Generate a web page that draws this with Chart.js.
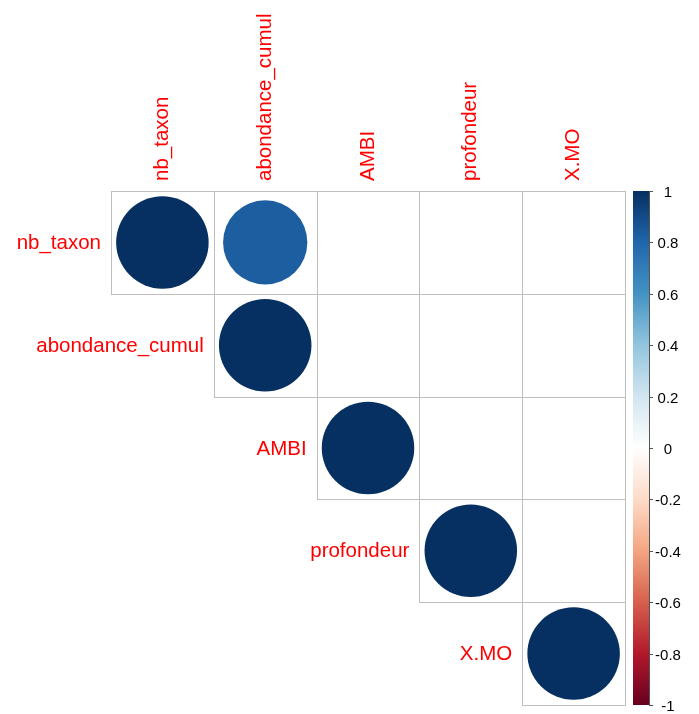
<!DOCTYPE html>
<html>
<head>
<meta charset="utf-8">
<script src="https://cdn.jsdelivr.net/npm/chart.js@4.4.1/dist/chart.umd.min.js"></script>
<style>
  html, body { margin: 0; padding: 0; background: #ffffff; }
  #wrap { width: 699px; height: 714px; }
</style>
</head>
<body>
<div id="wrap"><canvas id="corr" width="699" height="714"></canvas></div>
<script>
// variables (rows / columns of the matrix)
const variables = ['nb_taxon', 'abondance_cumul', 'AMBI', 'profondeur', 'X.MO'];

// upper triangle of the correlation matrix, null = blank cell
const rowNbTaxon     = [1, 0.83, null, null, null];
const rowAbondance   = [null, 1, null, null, null];
const rowAmbi        = [null, null, 1, null, null];
const rowProfondeur  = [null, null, null, 1, null];
const rowXMO         = [null, null, null, null, 1];
const corrRows = [rowNbTaxon, rowAbondance, rowAmbi, rowProfondeur, rowXMO];

// colour legend ticks
const legendTicks = [1, 0.8, 0.6, 0.4, 0.2, 0, -0.2, -0.4, -0.6, -0.8, -1];

// RdBu palette, from -1 to 1
const rdBu = ['#67001F', '#B2182B', '#D6604D', '#F4A582', '#FDDBC7', '#FFFFFF',
              '#D1E5F0', '#92C5DE', '#4393C3', '#2166AC', '#053061'];

const pad = { left: 111, top: 191, right: 74, bottom: 9 };
const labelFont = '20.5px "Liberation Sans", Arial, sans-serif';
const tickFont = '15px "Liberation Sans", Arial, sans-serif';

function hexToRgb(h) {
  return [1, 3, 5].map(i => parseInt(h.slice(i, i + 2), 16));
}

function corrColor(v) {
  const t = (v + 1) / 2 * (rdBu.length - 1);
  const i = Math.min(Math.floor(t), rdBu.length - 2);
  const f = t - i;
  const a = hexToRgb(rdBu[i]), b = hexToRgb(rdBu[i + 1]);
  const c = a.map((x, k) => Math.round(x + (b[k] - x) * f));
  return `rgb(${c[0]},${c[1]},${c[2]})`;
}

// bubble points, one per non-empty cell
const points = [];
corrRows.forEach((row, i) => {
  row.forEach((v, j) => {
    if (v !== null) points.push({ x: j, y: i, v });
  });
});

// bubble radius gets resolved while parsing (before scales are laid out),
// so take the cell size from the canvas width and padding
function cellSize(chart) {
  return (chart.width - pad.left - pad.right) / variables.length;
}

// grid, row/column labels and colour legend
const corrDecor = {
  id: 'corrDecor',
  beforeDatasetsDraw(chart) {
    const { ctx, scales: { x, y } } = chart;
    ctx.save();
    ctx.strokeStyle = '#BEBEBE';
    ctx.lineWidth = 1;
    for (let i = 0; i < variables.length; i++) {
      for (let j = i; j < variables.length; j++) {
        const x0 = Math.round(x.getPixelForValue(j - 0.5)) + 0.5;
        const x1 = Math.round(x.getPixelForValue(j + 0.5)) + 0.5;
        const y0 = Math.round(y.getPixelForValue(i - 0.5)) + 0.5;
        const y1 = Math.round(y.getPixelForValue(i + 0.5)) + 0.5;
        ctx.strokeRect(x0, y0, x1 - x0, y1 - y0);
      }
    }
    ctx.restore();
  },
  afterDraw(chart) {
    const { ctx, chartArea, scales: { x, y } } = chart;
    ctx.save();
    ctx.fillStyle = '#FF0000';
    ctx.font = labelFont;

    // column labels, rotated, above the grid
    variables.forEach((name, j) => {
      ctx.save();
      ctx.translate(x.getPixelForValue(j), chartArea.top - 10);
      ctx.rotate(-Math.PI / 2);
      ctx.textAlign = 'left';
      ctx.textBaseline = 'middle';
      ctx.fillText(name, 0, 0);
      ctx.restore();
    });

    // row labels, next to the diagonal
    ctx.textAlign = 'right';
    ctx.textBaseline = 'middle';
    variables.forEach((name, i) => {
      ctx.fillText(name, x.getPixelForValue(i - 0.5) - 10, y.getPixelForValue(i) + 1);
    });

    // colour legend
    const bx0 = 633, bx1 = 649;
    const by0 = chartArea.top, by1 = chartArea.bottom;
    const grad = ctx.createLinearGradient(0, by1, 0, by0);
    rdBu.forEach((c, k) => grad.addColorStop(k / (rdBu.length - 1), c));
    ctx.fillStyle = grad;
    ctx.fillRect(bx0, by0, bx1 - bx0, by1 - by0);

    ctx.strokeStyle = '#555555';
    ctx.lineWidth = 1;
    ctx.beginPath();
    ctx.moveTo(bx1 + 0.5, by0);
    ctx.lineTo(bx1 + 0.5, by1);
    ctx.stroke();

    ctx.font = tickFont;
    ctx.fillStyle = '#000000';
    ctx.textAlign = 'center';
    ctx.textBaseline = 'middle';
    legendTicks.forEach(v => {
      const ty = Math.round(by1 - (v + 1) / 2 * (by1 - by0)) + 0.5;
      ctx.beginPath();
      ctx.moveTo(bx1, ty);
      ctx.lineTo(bx1 + 4, ty);
      ctx.stroke();
      ctx.fillText(String(v), 668, ty + 1);
    });
    ctx.restore();
  }
};

new Chart(document.getElementById('corr'), {
  type: 'bubble',
  data: {
    datasets: [{
      data: points,
      backgroundColor: (c) => c.raw ? corrColor(c.raw.v) : '#000',
      borderWidth: 0,
      radius: (c) => c.raw ? 0.45 * cellSize(c.chart) * Math.sqrt(Math.abs(c.raw.v)) : 0,
      hoverRadius: 0,
      clip: false
    }]
  },
  options: {
    responsive: false,
    animation: false,
    events: [],
    layout: { padding: pad, autoPadding: false },
    plugins: { legend: { display: false }, tooltip: { enabled: false } },
    scales: {
      x: { type: 'linear', min: -0.5, max: 4.5, display: false },
      y: { type: 'linear', min: -0.5, max: 4.5, reverse: true, display: false }
    }
  },
  plugins: [corrDecor]
});
</script>
</body>
</html>
